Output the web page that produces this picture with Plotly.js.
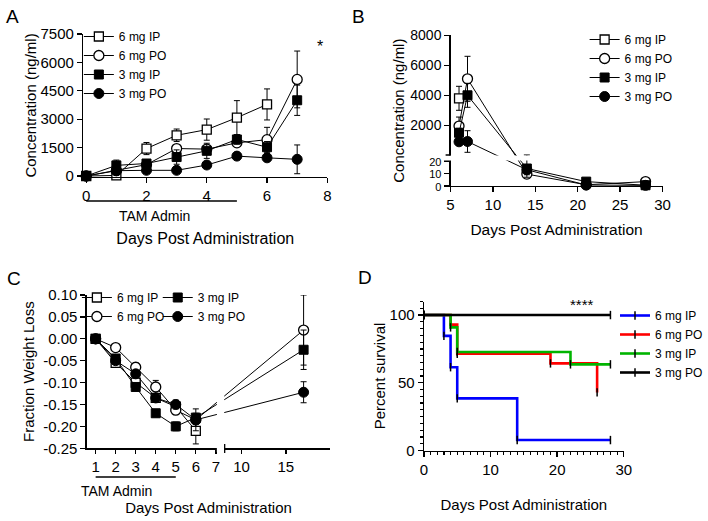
<!DOCTYPE html>
<html><head><meta charset="utf-8">
<script src="https://cdn.plot.ly/plotly-3.0.1.min.js"></script>
<style>html,body{margin:0;padding:0;background:#fff}#chart{width:708px;height:521px}</style>
</head><body><div id="chart"></div>
<script>
// ---------- Panel A: concentration during dosing ----------
const daysA = [0, 1, 2, 3, 4, 5, 6, 7];
const daysA6IP = [0, 1, 2, 3, 4, 5, 6];
const a6IP = [0, 30, 1450, 2150, 2450, 3080, 3780];
const a6IPerr = [0, 0, 320, 330, 560, 900, 820];
const a6PO = [0, 280, 600, 1450, 1420, 1750, 1920, 5100];
const a6POerr = [0, 100, 150, 200, 200, 150, 650, 1500];
const a3IP = [0, 560, 660, 1000, 1330, 1930, 1520, 4000];
const a3IPerr = [0, 280, 200, 380, 400, 250, 300, 800];
const a3PO = [0, 280, 300, 300, 580, 1050, 960, 880];
const a3POerr = [0, 80, 80, 80, 100, 100, 100, 760];
const aTicksY = [0, 1500, 3000, 4500, 6000, 7500];

// ---------- Panel B: concentration after dosing (broken y axis) ----------
const daysB6IP = [6];
const b6IP = [3800];
const b6IPerr = [800];
const daysB = [6, 7, 14, 21, 28];
const b6PO = [1950, 5100, 9.5, 1.0, 3.5];
const b6POerr = [600, 1500, 3, 0.4, 0.5];
const b3IP = [1500, 4000, 14, 3.5, 0.6];
const b3IPerr = [300, 800, 7, 0.5, 0.3];
const b3PO = [900, 920, 13, 0.8, 0.5];
const b3POerr = [100, 720, 4, 0.3, 0.2];
const bTickVals = [0, 10, 20, 2000, 4000, 6000, 8000];
const bTickText = ['0', '10', '20', '2000', '4000', '6000', '8000'];

// ---------- Panel C: fraction weight loss (broken x axis) ----------
const daysC6IP = [1, 2, 3, 4, 5, 6];
const daysC = [1, 2, 3, 4, 5, 6, 17];
const c6IP = [0, -0.055, -0.10, -0.135, -0.155, -0.21];
const c6IPerr = [0, 0.005, 0.008, 0.01, 0.01, 0.03];
const c6PO = [0, -0.02, -0.065, -0.11, -0.163, -0.185, 0.02];
const c6POerr = [0, 0.005, 0.01, 0.015, 0.01, 0.025, 0.08];
const c3IP = [0, -0.045, -0.11, -0.17, -0.20, -0.18, -0.025];
const c3IPerr = [0, 0.008, 0.008, 0.008, 0.01, 0.01, 0.045];
const c3PO = [0, -0.05, -0.08, -0.135, -0.15, -0.185, -0.122];
const c3POerr = [0, 0.005, 0.005, 0.01, 0.01, 0.01, 0.024];
const cTickDays = [1, 2, 3, 4, 5, 6, 7, 10, 15];
const cTickText = ['1', '2', '3', '4', '5', '6', '7', '10', '15'];
const cTickY = [0.10, 0.05, 0.00, -0.05, -0.10, -0.15, -0.20, -0.25];
const cTickYText = ['0.10', '0.05', '0.00', '-0.05', '-0.10', '-0.15', '-0.20', '-0.25'];

// ---------- Panel D: survival ----------
const dDays6IP = [0, 3, 4, 5, 14, 28];
const dSurv6IP = [100, 84.6, 61.5, 38.5, 7.7, 7.7];
const dDays6PO = [0, 4, 5, 19, 26];
const dSurv6PO = [100, 92.9, 71.4, 64.3, 42.9];
const dDays3IP = [0, 4, 5, 22, 28];
const dSurv3IP = [100, 90.9, 72.7, 63.6, 63.6];
const dDays3PO = [0, 28];
const dSurv3PO = [100, 100];

const names = ['6 mg IP', '6 mg PO', '3 mg IP', '3 mg PO'];

// ---------- helpers ----------
const W = 708, H = 521;
const px = v => v / W;
const py = v => 1 - v / H;
const FONT = 'Arial, "Liberation Sans", sans-serif';

// broken-axis display scales
function bv(y) { return y <= 20 ? y * 1.25 : 31 + (y - 20) * 0.015; }
function cx(d) { return d <= 7.2 ? d : 1 + (148 + 9 * (d - 10)) / 20.33; }

const mk = {
  openSq: {symbol: 'square', size: 9, color: 'white', line: {color: 'black', width: 1.3}},
  openCi: {symbol: 'circle', size: 10, color: 'white', line: {color: 'black', width: 1.3}},
  fillSq: {symbol: 'square', size: 9, color: 'black', line: {color: 'black', width: 1}},
  fillCi: {symbol: 'circle', size: 10, color: 'black', line: {color: 'black', width: 1}}
};
const markers = [mk.openSq, mk.openCi, mk.fillSq, mk.fillCi];

function err(arr) { return {type: 'data', array: arr, visible: true, color: 'black', thickness: 1, width: 3}; }
function errB(vals, errs) {
  return {type: 'data', symmetric: false, visible: true, color: 'black', thickness: 1, width: 3,
    array: vals.map((v, i) => bv(v + errs[i]) - bv(v)),
    arrayminus: vals.map((v, i) => bv(v) - bv(Math.max(v - errs[i], 0)))};
}
function series(x, y, e, i, xa, ya, leg, showleg) {
  return {type: 'scatter', mode: 'lines+markers', x: x, y: y, error_y: e,
    name: names[i], marker: markers[i], line: {color: 'black', width: 1},
    xaxis: xa, yaxis: ya, legend: leg, showlegend: showleg, cliponaxis: false};
}

const data = [];
// A
data.push(series(daysA6IP, a6IP, err(a6IPerr), 0, 'x', 'y', 'legend', true));
data.push(series(daysA, a6PO, err(a6POerr), 1, 'x', 'y', 'legend', true));
data.push(series(daysA, a3IP, err(a3IPerr), 2, 'x', 'y', 'legend', true));
data.push(series(daysA, a3PO, err(a3POerr), 3, 'x', 'y', 'legend', true));
// B
data.push(series(daysB6IP, b6IP.map(bv), errB(b6IP, b6IPerr), 0, 'x2', 'y2', 'legend2', true));
data.push(series(daysB, b6PO.map(bv), errB(b6PO, b6POerr), 1, 'x2', 'y2', 'legend2', true));
data.push(series(daysB, b3IP.map(bv), errB(b3IP, b3IPerr), 2, 'x2', 'y2', 'legend2', true));
data.push(series(daysB, b3PO.map(bv), errB(b3PO, b3POerr), 3, 'x2', 'y2', 'legend2', true));
// C
data.push(series(daysC6IP.map(cx), c6IP, err(c6IPerr), 0, 'x3', 'y3', 'legend3', true));
data.push(series(daysC.map(cx), c6PO, err(c6POerr), 1, 'x3', 'y3', 'legend3', true));
data.push(series(daysC.map(cx), c3IP, err(c3IPerr), 2, 'x3', 'y3', 'legend4', true));
data.push(series(daysC.map(cx), c3PO, err(c3POerr), 3, 'x3', 'y3', 'legend4', true));
// D
const dCols = ['#0000ff', '#ff0000', '#00b400', '#000000'];
const dX = [dDays6IP, dDays6PO, dDays3IP, dDays3PO];
const dY = [dSurv6IP, dSurv6PO, dSurv3IP, dSurv3PO];
for (let i = 0; i < 4; i++) {
  data.push({type: 'scatter', mode: 'lines+markers', x: dX[i], y: dY[i], name: names[i],
    line: {color: dCols[i], width: 2.6, shape: 'hv'},
    marker: {symbol: 'line-ns', size: 6, color: 'black', line: {color: 'black', width: 1.5}},
    xaxis: 'x4', yaxis: 'y4', legend: 'legend5', cliponaxis: false});
}

function ax(extra) {
  return Object.assign({showline: true, linecolor: 'black', linewidth: 1.3, ticks: 'outside',
    ticklen: 5, tickwidth: 1.3, tickcolor: 'black', showgrid: false, zeroline: false,
    tickfont: {family: FONT, size: 15, color: 'black'}, fixedrange: true}, extra);
}
function ttl(text, standoff, size) {
  return {text: text, standoff: standoff, font: {family: FONT, size: size || 15, color: 'black'}};
}
function leg(x, y, size) {
  return {x: px(x), y: py(y), xanchor: 'left', yanchor: 'top', bgcolor: 'rgba(0,0,0,0)',
    font: {family: FONT, size: size || 12, color: 'black'}, itemwidth: 30, tracegroupgap: 0};
}
// lower-segment labels of the broken axis are packed tightly: draw them a little smaller
const bTickShown = bTickText.map((t, i) => bTickVals[i] <= 20 ? '<span style="font-size:11px">' + t + '</span>' : t);

const layout = {
  width: W, height: H, margin: {l: 0, r: 0, t: 0, b: 0},
  paper_bgcolor: 'white', plot_bgcolor: 'rgba(0,0,0,0)',
  font: {family: FONT, color: 'black'},
  xaxis: ax({domain: [px(84.4), px(332)], anchor: 'y', range: [-0.1, 8], dtick: 2, tick0: 0,
    title: ttl('Days Post Administration', 29, 16)}),
  yaxis: ax({domain: [py(177), py(34)], anchor: 'x', range: [-53, 7500], tickvals: aTicksY,
    title: ttl('Concentration (ng/ml)', 0)}),
  xaxis2: ax({domain: [px(457), px(672)], anchor: 'y2', range: [5, 30], dtick: 5, tick0: 5,
    title: ttl('Days Post Administration', 12, 15.5)}),
  yaxis2: ax({domain: [py(186), py(35.3)], anchor: 'x2', range: [0, 150.7],
    tickvals: bTickVals.map(bv), ticktext: bTickShown, tickfont: {family: FONT, size: 14, color: 'black'},
    title: ttl('Concentration (ng/ml)', 2)}),
  xaxis3: ax({domain: [px(88), px(335)], anchor: 'y3', range: [0.557, 12.71], ticklen: 4,
    tickvals: cTickDays.map(cx), ticktext: cTickText, title: ttl('Days Post Administration', 29)}),
  yaxis3: ax({domain: [py(448.3), py(295)], anchor: 'x3', range: [-0.25, 0.10],
    tickvals: cTickY, ticktext: cTickYText, title: ttl('Fraction Weight Loss', 5)}),
  xaxis4: ax({domain: [px(430), px(632.7)], anchor: 'y4', range: [0, 30], dtick: 10, tick0: 0,
    minor: {dtick: 1, ticklen: 3, ticks: 'outside', tickcolor: 'black', tickwidth: 1.2},
    title: ttl('Days Post Administration', 22)}),
  yaxis4: ax({domain: [py(450.5), py(301.5)], anchor: 'x4', range: [0, 110], dtick: 50, tick0: 0,
    minor: {dtick: 5, ticklen: 3, ticks: 'outside', tickcolor: 'black', tickwidth: 1.2},
    title: ttl('Percent survival', 0)}),
  legend: leg(80, 22),
  legend2: leg(593, 25),
  legend3: leg(78, 283),
  legend4: leg(160, 283),
  legend5: leg(624, 301),
  shapes: [
    // A: TAM admin bar
    {type: 'line', xref: 'x', yref: 'paper', x0: 0, x1: 5, y0: py(201), y1: py(201), line: {color: 'black', width: 1.5}},
    // C: TAM admin bar
    {type: 'line', xref: 'x3', yref: 'paper', x0: 1, x1: 5, y0: py(477), y1: py(477), line: {color: 'black', width: 1.5}},
    // B: y-axis break gap
    {type: 'rect', xref: 'paper', yref: 'y2', x0: px(450), x1: px(676), y0: 25.6, y1: 30.4, fillcolor: 'white', line: {width: 0}, layer: 'above'},
    {type: 'line', xref: 'paper', yref: 'y2', x0: px(452), x1: px(457), y0: 31, y1: 31, line: {color: 'black', width: 1.3}, layer: 'above'},
    // C: x-axis break gap
    {type: 'rect', xref: 'x3', yref: 'paper', x0: 7.05, x1: 7.42, y0: py(452), y1: py(290), fillcolor: 'white', line: {width: 0}, layer: 'above'},
    {type: 'line', xref: 'x3', yref: 'paper', x0: 7.44, x1: 7.44, y0: py(444), y1: py(453), line: {color: 'black', width: 1.3}, layer: 'above'}
  ],
  annotations: [
    {text: 'A', xref: 'paper', yref: 'paper', x: px(4), y: py(4), xanchor: 'left', yanchor: 'top', showarrow: false, font: {family: FONT, size: 19}},
    {text: 'B', xref: 'paper', yref: 'paper', x: px(355), y: py(4), xanchor: 'left', yanchor: 'top', showarrow: false, font: {family: FONT, size: 19}},
    {text: 'C', xref: 'paper', yref: 'paper', x: px(5), y: py(266), xanchor: 'left', yanchor: 'top', showarrow: false, font: {family: FONT, size: 19}},
    {text: 'D', xref: 'paper', yref: 'paper', x: px(361), y: py(265), xanchor: 'left', yanchor: 'top', showarrow: false, font: {family: FONT, size: 19}},
    {text: 'TAM Admin', xref: 'x', yref: 'paper', x: 2.28, y: py(216), yanchor: 'middle', showarrow: false, font: {family: FONT, size: 14}},
    {text: 'TAM Admin', xref: 'x3', yref: 'paper', x: 2.05, y: py(491), yanchor: 'middle', showarrow: false, font: {family: FONT, size: 14}},
    {text: '*', xref: 'paper', yref: 'paper', x: px(325), y: py(36), showarrow: false, font: {family: FONT, size: 16}},
    {text: '****', xref: 'paper', yref: 'paper', x: px(605), y: py(304), showarrow: false, font: {family: FONT, size: 15}}
  ]
};

Plotly.newPlot('chart', data, layout, {displayModeBar: false, staticPlot: true});
</script></body></html>
